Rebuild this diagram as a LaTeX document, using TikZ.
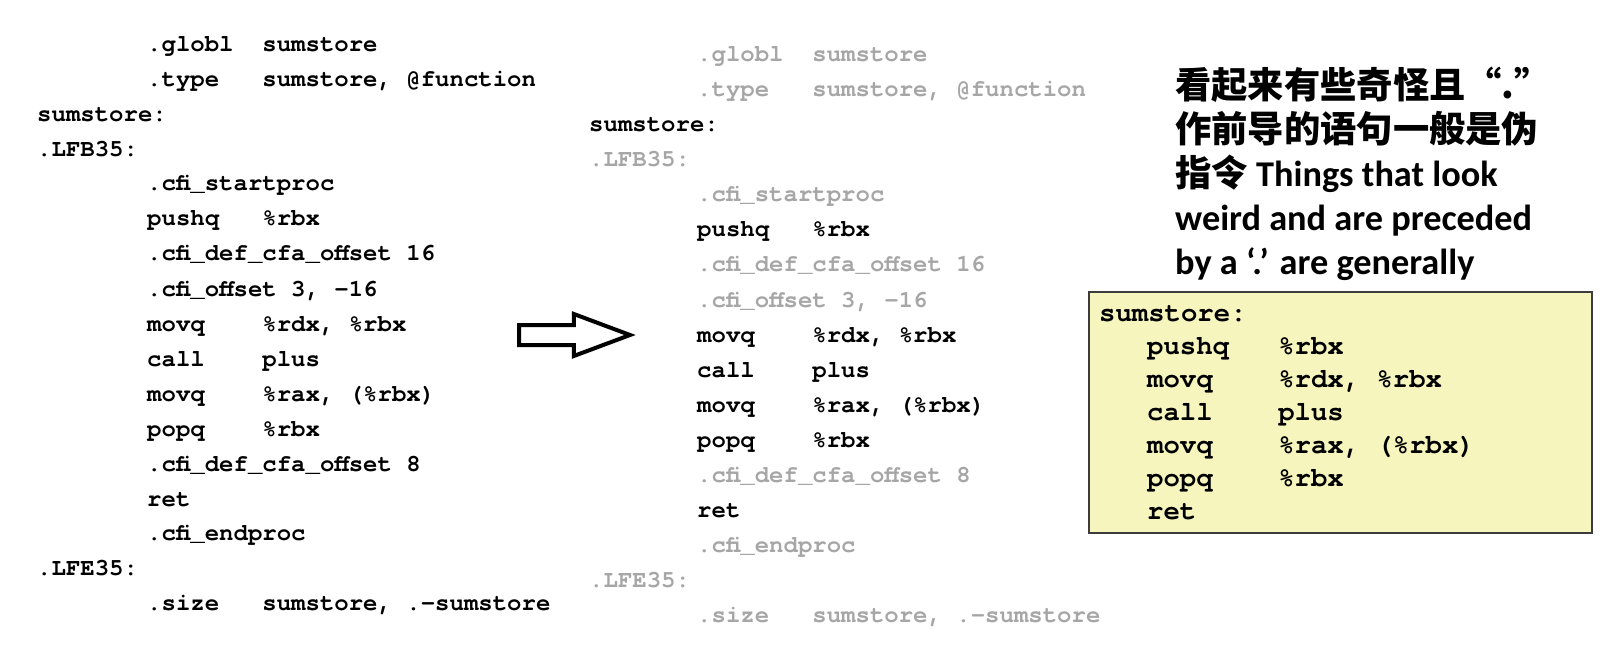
\documentclass[tikz,border=0pt]{standalone}
\usepackage{fontspec}
\setmonofont{TeX Gyre Cursor}
\newfontfamily\cjk{Noto Sans CJK SC}
\newfontfamily\lat{Carlito}
\usepackage{tikz}
\usetikzlibrary{shapes}
\usetikzlibrary{shapes.arrows}
\definecolor{gris}{RGB}{166,166,166}
\definecolor{jaune}{RGB}{247,245,190}
\definecolor{bord}{RGB}{60,60,60}
\tikzstyle{code}=[
        anchor=base west,
        inner sep=0pt,
        font=\ttfamily\bfseries\fontsize{24}{28}\selectfont
]
\tikzstyle{pseudo}=[code,text=gris]
\tikzstyle{boitecode}=[anchor=base west,inner sep=0pt,font=\ttfamily\bfseries\fontsize{27.3}{33}\selectfont]
\tikzstyle{boite}=[draw=bord,fill=jaune,line width=1.5pt]
\tikzstyle{remarque}=[anchor=base west,inner sep=0pt,font=\cjk\bfseries\fontsize{36.3}{44}\selectfont]
\tikzstyle{fleche}=[
        single arrow,
        draw,
        line width=4pt,
        fill=white,
        minimum height=111pt,
        single arrow head extend=11pt,
        single arrow tip angle=41,
        inner xsep=0pt,
        inner ysep=8pt,
        text height=0pt,
        text depth=0pt
]

\begin{document}
\begin{tikzpicture}[x=1pt,y=-1pt]
\useasboundingbox (0,0) rectangle (1616,660);
%Codecompletgauche
\node[code] (g1) at (147,52) {.globl~~sumstore};
\node[code] (g2) at (147,87) {.type~~~sumstore, @function};
\node[code] (g3) at (37,122) {sumstore:};
\node[code] (g4) at (37,157) {.LFB35:};
\node[code] (g5) at (147,191) {.cfi\_startproc};
\node[code] (g6) at (147,226) {pushq~~~\%rbx};
\node[code] (g7) at (147,261) {.cfi\_def\_cfa\_offset 16};
\node[code] (g8) at (147,296) {.cfi\_offset 3, -16};
\node[code] (g9) at (147,331) {movq~~~~\%rdx, \%rbx};
\node[code] (g10) at (147,366) {call~~~~plus};
\node[code] (g11) at (147,401) {movq~~~~\%rax, (\%rbx)};
\node[code] (g12) at (147,436) {popq~~~~\%rbx};
\node[code] (g13) at (147,471) {.cfi\_def\_cfa\_offset 8};
\node[code] (g14) at (147,506) {ret};
\node[code] (g15) at (147,540) {.cfi\_endproc};
\node[code] (g16) at (37,575) {.LFE35:};
\node[code] (g17) at (147,610) {.size~~~sumstore, .-sumstore};
%Fleche
\node[fleche] (fleche) at (517,335) [anchor=tail] {};
%Codeavecpseudoinstructionsgrisees
\node[pseudo] (m1) at (697,62) {.globl~~sumstore};
\node[pseudo] (m2) at (697,97) {.type~~~sumstore, @function};
\node[code] (m3) at (589,132) {sumstore:};
\node[pseudo] (m4) at (589,167) {.LFB35:};
\node[pseudo] (m5) at (697,202) {.cfi\_startproc};
\node[code] (m6) at (697,237) {pushq~~~\%rbx};
\node[pseudo] (m7) at (697,272) {.cfi\_def\_cfa\_offset 16};
\node[pseudo] (m8) at (697,307) {.cfi\_offset 3, -16};
\node[code] (m9) at (697,342) {movq~~~~\%rdx, \%rbx};
\node[code] (m10) at (697,377) {call~~~~plus};
\node[code] (m11) at (697,412) {movq~~~~\%rax, (\%rbx)};
\node[code] (m12) at (697,447) {popq~~~~\%rbx};
\node[pseudo] (m13) at (697,482) {.cfi\_def\_cfa\_offset 8};
\node[code] (m14) at (697,517) {ret};
\node[pseudo] (m15) at (697,552) {.cfi\_endproc};
\node[pseudo] (m16) at (589,587) {.LFE35:};
\node[pseudo] (m17) at (697,622) {.size~~~sumstore, .-sumstore};
%Remarque
\node[remarque] (n1) at (1175,99) {看起来有些奇怪且“.”};
\node[remarque] (n2) at (1175,143) {作前导的语句一般是伪};
\node[remarque] (n3) at (1175,187) {指令 {\lat Things that look}};
\node[remarque] (n4) at (1175,231) {\lat weird and are preceded};
\node[remarque] (n5) at (1175,275) {\lat by a ‘.’ are generally};
%Codefinal
\draw[boite] (1089,292) rectangle (1592,533);
\node[boitecode] (b1) at (1099,321) {sumstore:};
\node[boitecode] (b2) at (1147,354) {pushq~~~\%rbx};
\node[boitecode] (b3) at (1147,387) {movq~~~~\%rdx, \%rbx};
\node[boitecode] (b4) at (1147,420) {call~~~~plus};
\node[boitecode] (b5) at (1147,453) {movq~~~~\%rax, (\%rbx)};
\node[boitecode] (b6) at (1147,486) {popq~~~~\%rbx};
\node[boitecode] (b7) at (1147,519) {ret};
\end{tikzpicture}
\end{document}
